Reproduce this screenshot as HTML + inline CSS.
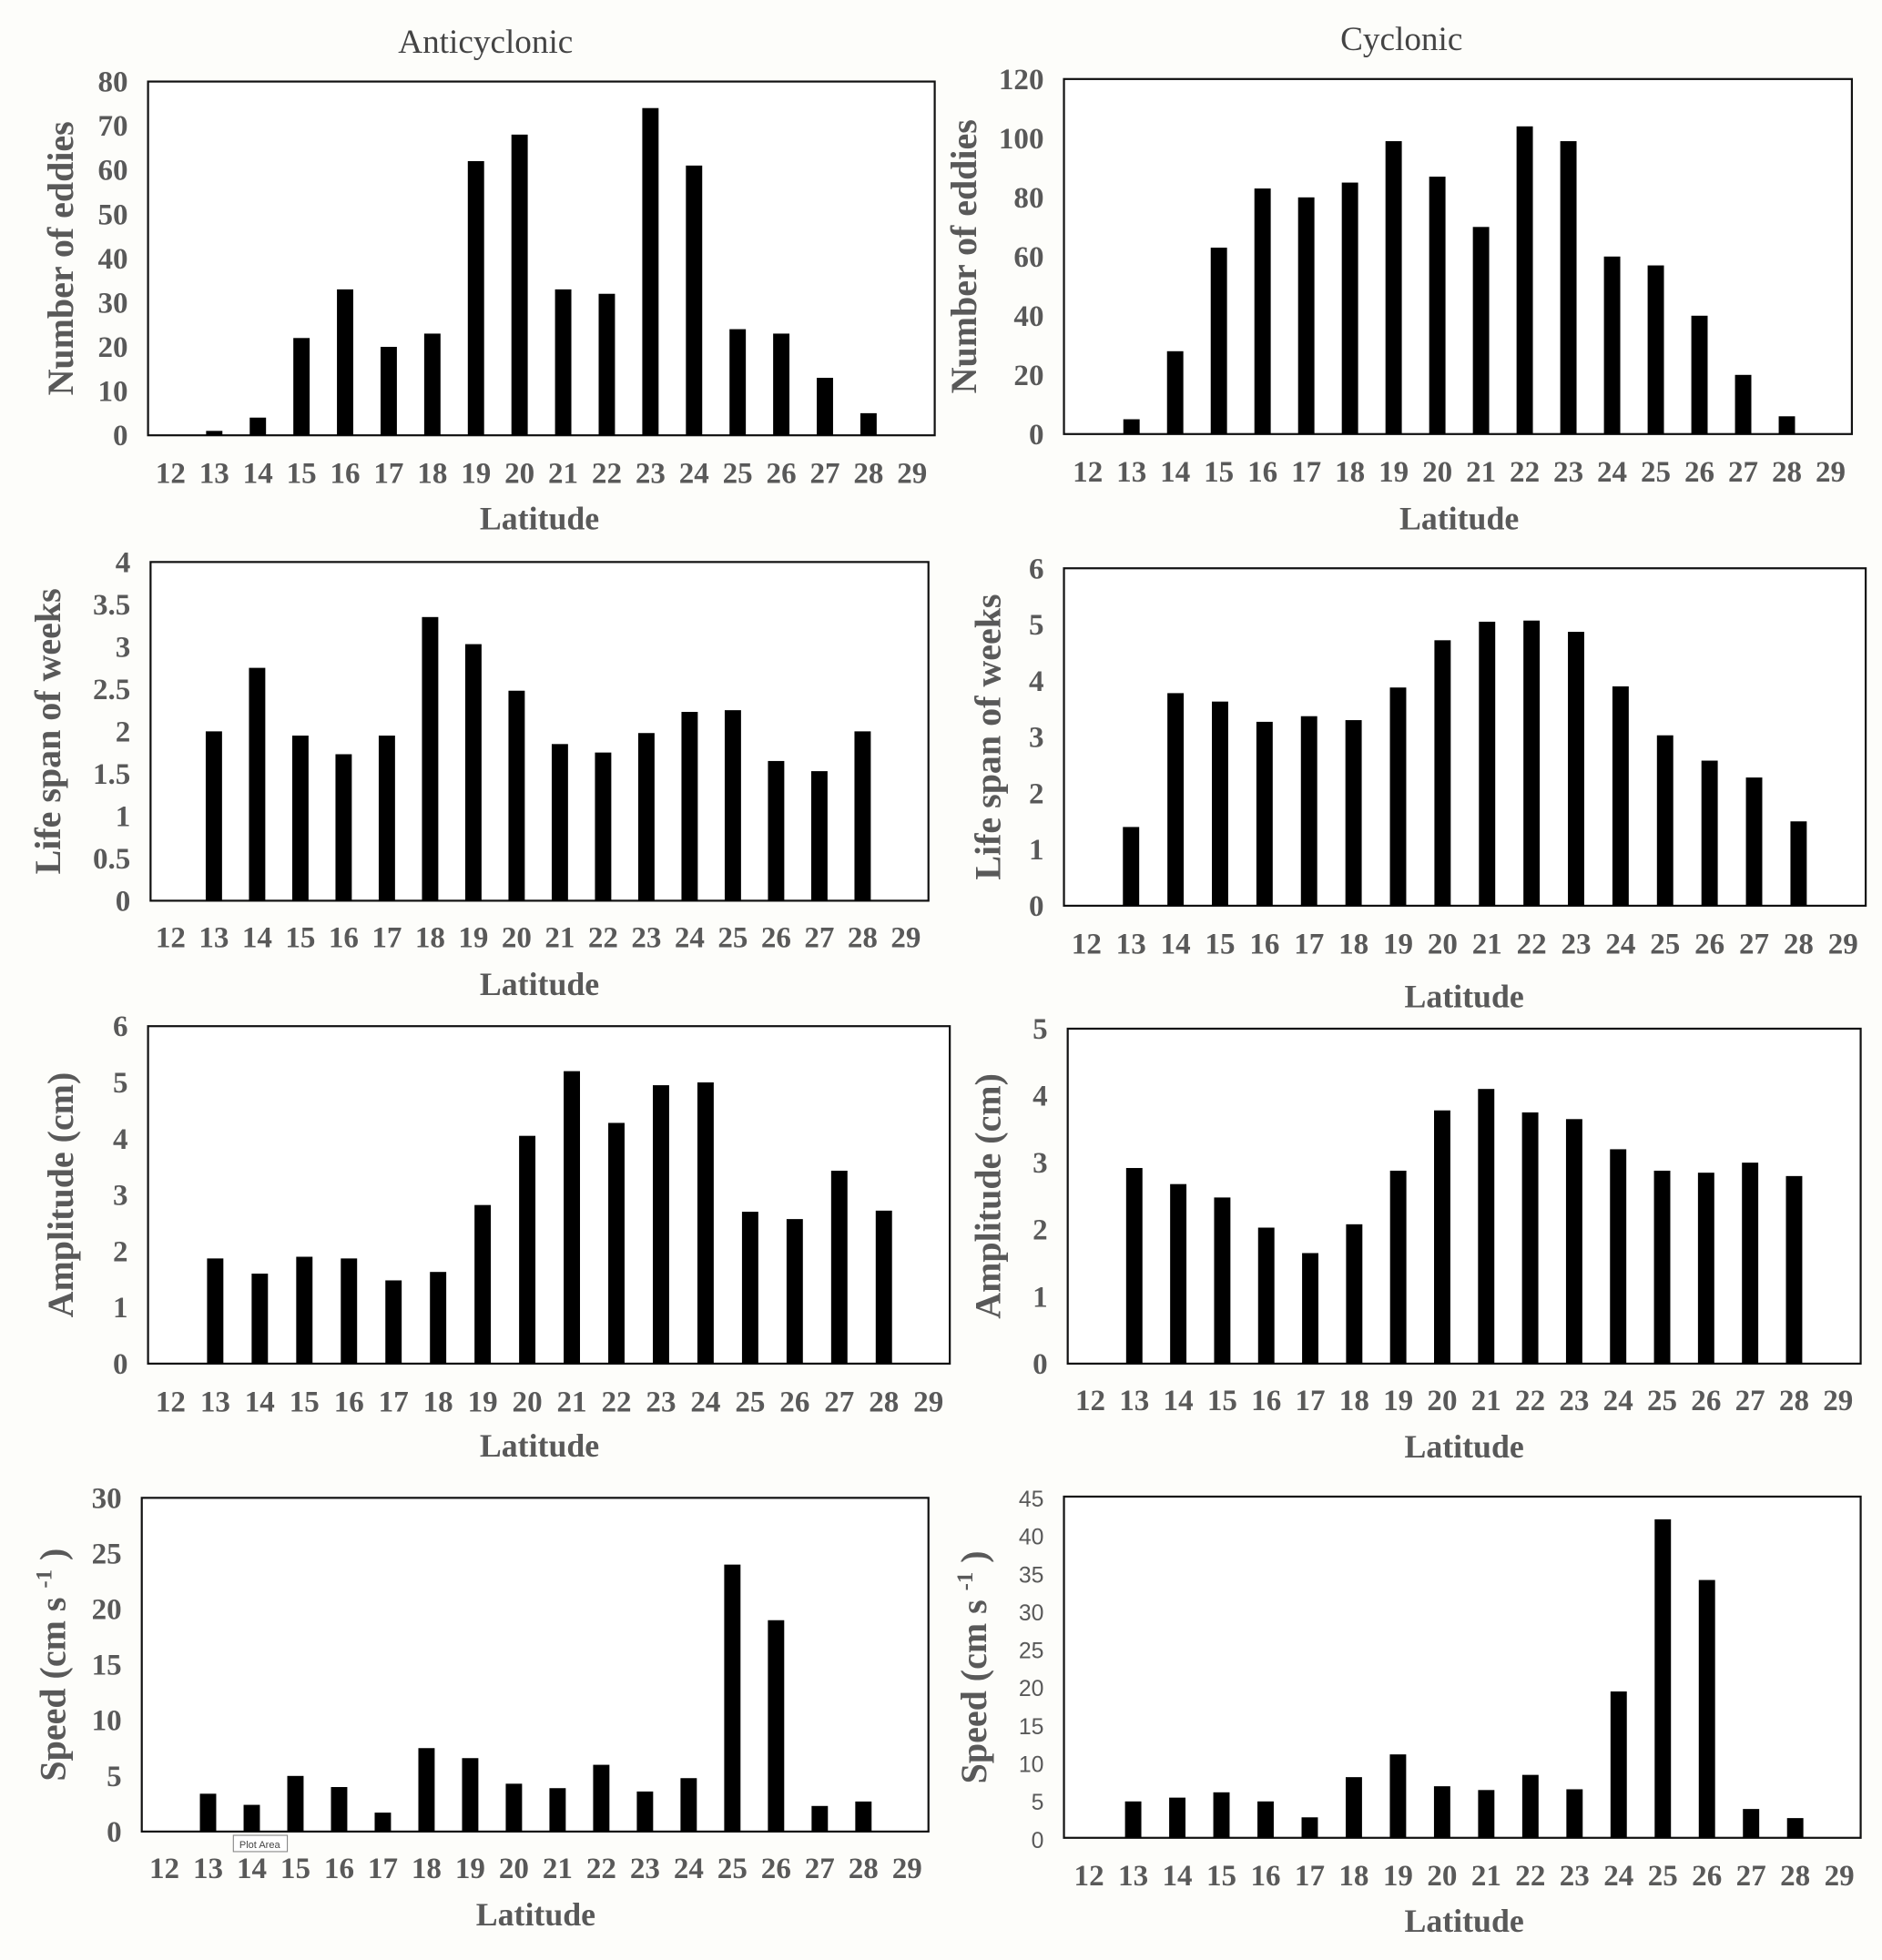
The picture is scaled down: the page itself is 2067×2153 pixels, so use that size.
<!DOCTYPE html>
<html><head><meta charset="utf-8">
<style>
html,body{margin:0;padding:0;background:#fdfdfa;}
svg{display:block;}
</style></head>
<body>
<svg id="fig" xmlns="http://www.w3.org/2000/svg" width="2067" height="2153" viewBox="0 0 1500 1562.4" preserveAspectRatio="none">
<rect x="0" y="0" width="1500" height="1563" fill="#fdfdfa"/>
<text x="387" y="42" font-family="Liberation Serif, serif" font-size="27" fill="#444" text-anchor="middle">Anticyclonic</text>
<text x="1117" y="40" font-family="Liberation Serif, serif" font-size="27" fill="#444" text-anchor="middle">Cyclonic</text>
</svg>
<script>
const categories = [12,13,14,15,16,17,18,19,20,21,22,23,24,25,26,27,28,29];
const countAnti = [0,1,4,22,33,20,23,62,68,33,32,74,61,24,23,13,5,0];
const countCyc = [0,5,28,63,83,80,85,99,87,70,104,99,60,57,40,20,6,0];
const lifeAnti = [0,2.0,2.75,1.95,1.73,1.95,3.35,3.03,2.48,1.85,1.75,1.98,2.23,2.25,1.65,1.53,2.0,0];
const lifeCyc = [0,1.4,3.78,3.63,3.27,3.37,3.3,3.88,4.72,5.05,5.07,4.87,3.9,3.03,2.58,2.28,1.5,0];
const ampAnti = [0,1.87,1.6,1.9,1.87,1.48,1.63,2.82,4.05,5.2,4.28,4.95,5.0,2.7,2.57,3.43,2.72,0];
const ampCyc = [0,2.92,2.68,2.48,2.03,1.65,2.08,2.88,3.78,4.1,3.75,3.65,3.2,2.88,2.85,3.0,2.8,0];
const speedAnti = [0,3.4,2.4,5.0,4.0,1.7,7.5,6.6,4.3,3.9,6.0,3.6,4.8,24,19,2.3,2.7,0];
const speedCyc = [0,4.8,5.3,6.0,4.8,2.7,8.0,11,6.8,6.3,8.3,6.4,19.3,42,34,3.8,2.6,0];
const ticksCount80 = [0,10,20,30,40,50,60,70,80];
const ticksCount120 = [0,20,40,60,80,100,120];
const ticksLife4 = ["0","0.5","1","1.5","2","2.5","3","3.5","4"];
const ticksLife6 = [0,1,2,3,4,5,6];
const ticksAmp6 = [0,1,2,3,4,5,6];
const ticksAmp5 = [0,1,2,3,4,5];
const ticksSpeed30 = [0,5,10,15,20,25,30];
const ticksSpeed45 = [0,5,10,15,20,25,30,35,40,45];

const NS = "http://www.w3.org/2000/svg";
const svg = document.getElementById('fig');
function mk(tag, attrs, parent){
  const e = document.createElementNS(NS, tag);
  for (const k in attrs) e.setAttribute(k, attrs[k]);
  (parent||svg).appendChild(e);
  return e;
}
const SERIF = "Liberation Serif, serif";
function chart(id, cfg, values, ticks){
  const g = mk('g', {});
  
  
  const x0 = cfg.bx0, x1 = cfg.bx1, y0 = cfg.by0, y1 = cfg.by1;
  const maxV = Number(ticks[ticks.length-1]);
  const yScale = v => y1 - (v / maxV) * (y1 - y0);
  const xScale = i => cfg.lx0 + i * (cfg.lx1 - cfg.lx0) / (categories.length - 1);
  const box = mk('rect', {x:x0, y:y0, width:x1-x0, height:y1-y0, fill:'#fff', stroke:'#111', 'stroke-width':1.6}, g);
  
  
  ticks.forEach(t => {
    const tx = mk('text', {x:x0-16, y:yScale(Number(t))+8, 'text-anchor':'end', 'font-family': cfg.sans ? 'Liberation Sans, sans-serif' : SERIF, 'font-weight': cfg.sans ? 'normal' : 'bold', 'font-size': cfg.sans ? 18 : 24, fill:'#595959'}, g);
    tx.textContent = t;
    
    
  });
  categories.forEach((c, i) => {
    const tx = mk('text', {x:xScale(i), y:cfg.ly, 'text-anchor':'middle', 'font-family':SERIF, 'font-weight':'bold', 'font-size':24, fill:'#595959'}, g);
    tx.textContent = c;
    
    
    const v = values[i];
    if (v > 0) {
      const b = mk('rect', {x:xScale(i)-6.5, y:yScale(v), width:13, height:y1-yScale(v), fill:'#000'}, g);
      
      
    }
  });
  const xt = mk('text', {x:cfg.xtx, y:cfg.xty, 'text-anchor':'middle', 'font-family':SERIF, 'font-weight':'bold', 'font-size':26, fill:'#595959'}, g);
  xt.textContent = 'Latitude';
  
  
  const yt = mk('text', {x:0, y:0, 'text-anchor':'middle', 'font-family':SERIF, 'font-weight':'bold', 'font-size':29, fill:'#595959', transform:'translate(' + cfg.ytx + ',' + ((y0+y1)/2) + ') rotate(-90)'}, g);
  
  
  if (cfg.speed) {
    yt.textContent = 'Speed (cm s ';
    const sup = mk('tspan', {dy:-11, 'font-size':18}, yt);
    sup.textContent = '-1';
    const cl = mk('tspan', {dy:11}, yt);
    cl.textContent = ' )';
  } else yt.textContent = cfg.ytitle;
}
chart('count-anti', {bx0:118,bx1:745,by0:65,by1:347,lx0:136,lx1:727,ly:385,xtx:430,xty:422,ytx:58,ytitle:'Number of eddies'}, countAnti, ticksCount80);
chart('count-cyc', {bx0:848,bx1:1476,by0:63,by1:346,lx0:867,lx1:1459,ly:384,xtx:1163,xty:422,ytx:778,ytitle:'Number of eddies'}, countCyc, ticksCount120);
chart('life-anti', {bx0:120,bx1:740,by0:448,by1:718,lx0:136,lx1:722,ly:755,xtx:430,xty:793,ytx:48,ytitle:'Life span of weeks'}, lifeAnti, ticksLife4);
chart('life-cyc', {bx0:848,bx1:1487,by0:453,by1:722,lx0:866,lx1:1469,ly:760,xtx:1167,xty:803,ytx:797,ytitle:'Life span of weeks'}, lifeCyc, ticksLife6);
chart('amp-anti', {bx0:118,bx1:757,by0:818,by1:1087,lx0:136,lx1:740,ly:1125,xtx:430,xty:1161,ytx:58,ytitle:'Amplitude (cm)'}, ampAnti, ticksAmp6);
chart('amp-cyc', {bx0:851,bx1:1483,by0:820,by1:1087,lx0:869,lx1:1465,ly:1124,xtx:1167,xty:1162,ytx:797,ytitle:'Amplitude (cm)'}, ampCyc, ticksAmp5);
chart('speed-anti', {bx0:113,bx1:740,by0:1194,by1:1460,lx0:131,lx1:723,ly:1497,xtx:427,xty:1535,ytx:52,speed:true}, speedAnti, ticksSpeed30);
chart('speed-cyc', {bx0:848,bx1:1483,by0:1193,by1:1465,lx0:868,lx1:1466,ly:1503,xtx:1167,xty:1540,ytx:786,speed:true,sans:true}, speedCyc, ticksSpeed45);
const tip = mk('g', {});


mk('rect', {x:186, y:1463, width:43, height:13, fill:'#fff', stroke:'#888', 'stroke-width':0.8}, tip);
const tt = mk('text', {x:207, y:1473, 'text-anchor':'middle', 'font-family':'Liberation Sans, sans-serif', 'font-size':8, fill:'#444'}, tip);
tt.textContent = 'Plot Area';
</script>
</body></html>
